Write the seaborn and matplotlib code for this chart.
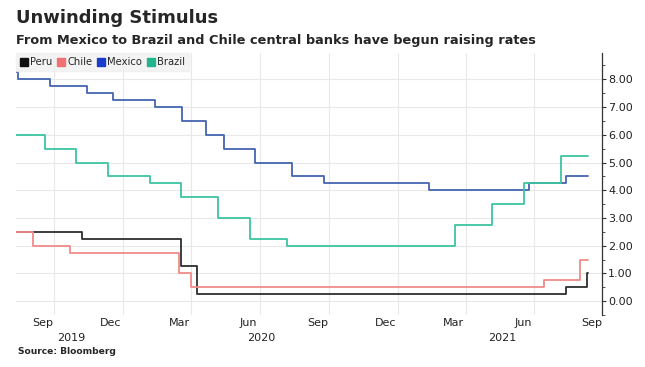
"""
Taxas de juros de bancos centrais da América Latina (Peru, Chile, México, Brasil).
Gráfico em degraus recriado com seaborn.
"""

import pandas as pd
import matplotlib.pyplot as plt
import matplotlib.dates as mdates
import matplotlib.transforms as mtransforms
from matplotlib.lines import Line2D
import seaborn as sns

# Datas de mudança e taxas (%) de cada país
peru_dates = ['2019-08-12', '2019-11-08', '2020-03-19', '2020-04-09', '2021-08-12', '2021-09-09']
peru_rates = [2.50, 2.25, 1.25, 0.25, 0.50, 1.00]

chile_dates = ['2019-08-12', '2019-09-04', '2019-10-23', '2020-03-16', '2020-03-31', '2021-07-14', '2021-08-31']
chile_rates = [2.50, 2.00, 1.75, 1.00, 0.50, 0.75, 1.50]

mexico_dates = ['2019-08-12', '2019-08-15', '2019-09-26', '2019-11-14', '2019-12-19', '2020-02-13',
                '2020-03-20', '2020-04-21', '2020-05-14', '2020-06-25', '2020-08-13', '2020-09-24',
                '2021-02-11', '2021-06-24', '2021-08-12']
mexico_rates = [8.25, 8.00, 7.75, 7.50, 7.25, 7.00, 6.50, 6.00, 5.50, 5.00, 4.50, 4.25, 4.00, 4.25, 4.50]

brazil_dates = ['2019-08-12', '2019-09-19', '2019-10-31', '2019-12-12', '2020-02-06', '2020-03-19',
                '2020-05-07', '2020-06-18', '2020-08-06', '2021-03-18', '2021-05-06', '2021-06-17',
                '2021-08-05']
brazil_rates = [6.00, 5.50, 5.00, 4.50, 4.25, 3.75, 3.00, 2.25, 2.00, 2.75, 3.50, 4.25, 5.25]

end_date = '2021-09-10'

countries = ['Peru', 'Chile', 'Mexico', 'Brazil']
line_colors = ['#2e2e2e', '#f08c88', '#4465b0', '#3cc4a0']
legend_colors = ['#111111', '#f07272', '#1a3cc8', '#22b48c']

y_ticks = [0, 1, 2, 3, 4, 5, 6, 7, 8]
month_labels = ['Sep', 'Dec', 'Mar', 'Jun', 'Sep', 'Dec', 'Mar', 'Jun', 'Sep']
month_label_dates = ['2019-09-16', '2019-12-16', '2020-03-16', '2020-06-16', '2020-09-16',
                     '2020-12-16', '2021-03-16', '2021-06-16', '2021-09-16']
grid_dates = ['2019-10-01', '2020-01-01', '2020-04-01', '2020-07-01', '2020-10-01',
              '2021-01-01', '2021-04-01', '2021-07-01']
year_labels = ['2019', '2020', '2021']
year_label_dates = ['2019-10-24', '2020-07-03', '2021-05-20']


def build_frame():
    """Monta o DataFrame longo, repetindo a última taxa na data final."""
    all_dates = [peru_dates, chile_dates, mexico_dates, brazil_dates]
    all_rates = [peru_rates, chile_rates, mexico_rates, brazil_rates]
    rows = []
    for name, dates, rates in zip(countries, all_dates, all_rates):
        for d, r in zip(dates + [end_date], rates + [rates[-1]]):
            rows.append({'date': pd.Timestamp(d), 'rate': r, 'country': name})
    return pd.DataFrame(rows)


df = build_frame()

sns.set_style('white')
plt.rcParams['font.family'] = ['DejaVu Sans']

fig = plt.figure(figsize=(6.45, 3.67), dpi=100)
ax = fig.add_axes([0.0248, 0.1417, 0.9085, 0.7139])

# Linhas em degraus
sns.lineplot(data=df, x='date', y='rate', hue='country', hue_order=countries,
             palette=dict(zip(countries, line_colors)), drawstyle='steps-post',
             estimator=None, linewidth=1.3, legend=False, ax=ax)

ax.set_xlim(pd.Timestamp('2019-08-12'), pd.Timestamp('2021-09-29'))
ax.set_ylim(-0.45, 8.95)

# Eixo Y à direita
ax.yaxis.tick_right()
ax.set_yticks(y_ticks)
ax.set_yticks([v + 0.5 for v in range(-1, 9)], minor=True)
ax.yaxis.set_major_formatter(plt.FormatStrFormatter('%.2f'))
ax.tick_params(axis='y', which='major', length=3, width=0.8, color='#333333',
               labelsize=8, labelcolor='#222222', pad=1.5, right=True, left=False)
ax.tick_params(axis='y', which='minor', length=2, width=0.6, color='#333333', right=True, left=False)

# Eixo X: grades nas viradas de trimestre, rótulos no meio do mês
ax.set_xticks([pd.Timestamp(d) for d in grid_dates])
ax.set_xticklabels([])
ax.set_xticks([pd.Timestamp(d) for d in month_label_dates], minor=True)
ax.set_xticklabels(month_labels, minor=True)
ax.tick_params(axis='x', which='both', length=0, labelsize=8, labelcolor='#222222', pad=2)

trans = mtransforms.blended_transform_factory(ax.transData, ax.transAxes)
for lab, d in zip(year_labels, year_label_dates):
    ax.text(mdates.date2num(pd.Timestamp(d)), -0.088, lab, transform=trans,
            ha='center', va='center', fontsize=8, color='#222222')

ax.grid(True, axis='both', which='major', color='#e8e8e8', linewidth=0.8)
for s in ['top', 'left', 'bottom']:
    ax.spines[s].set_visible(False)
ax.spines['right'].set_color('#333333')
ax.spines['right'].set_linewidth(0.9)
ax.set_xlabel('')
ax.set_ylabel('')

# Legenda
handles = [Line2D([], [], marker='s', linestyle='', markersize=5.5, color=c) for c in legend_colors]
leg = ax.legend(handles, countries, loc='upper left', bbox_to_anchor=(0.0, 1.0), ncol=4,
                frameon=True, fontsize=7.2, handletextpad=0.25, columnspacing=0.55,
                handlelength=0.7, borderpad=0.4, borderaxespad=0.05, fancybox=False)
leg.get_frame().set_facecolor('#f0f0f0')
leg.get_frame().set_edgecolor('#f0f0f0')

# Títulos e fonte
fig.text(0.025, 0.952, 'Unwinding Stimulus', fontsize=13, fontweight='bold', va='center')
fig.text(0.025, 0.891, 'From Mexico to Brazil and Chile central banks have begun raising rates',
         fontsize=9.3, fontweight='bold', va='center')
fig.text(0.028, 0.042, 'Source: Bloomberg', fontsize=6.6, fontweight='bold', va='center')

fig.savefig('out.png', dpi=100)
